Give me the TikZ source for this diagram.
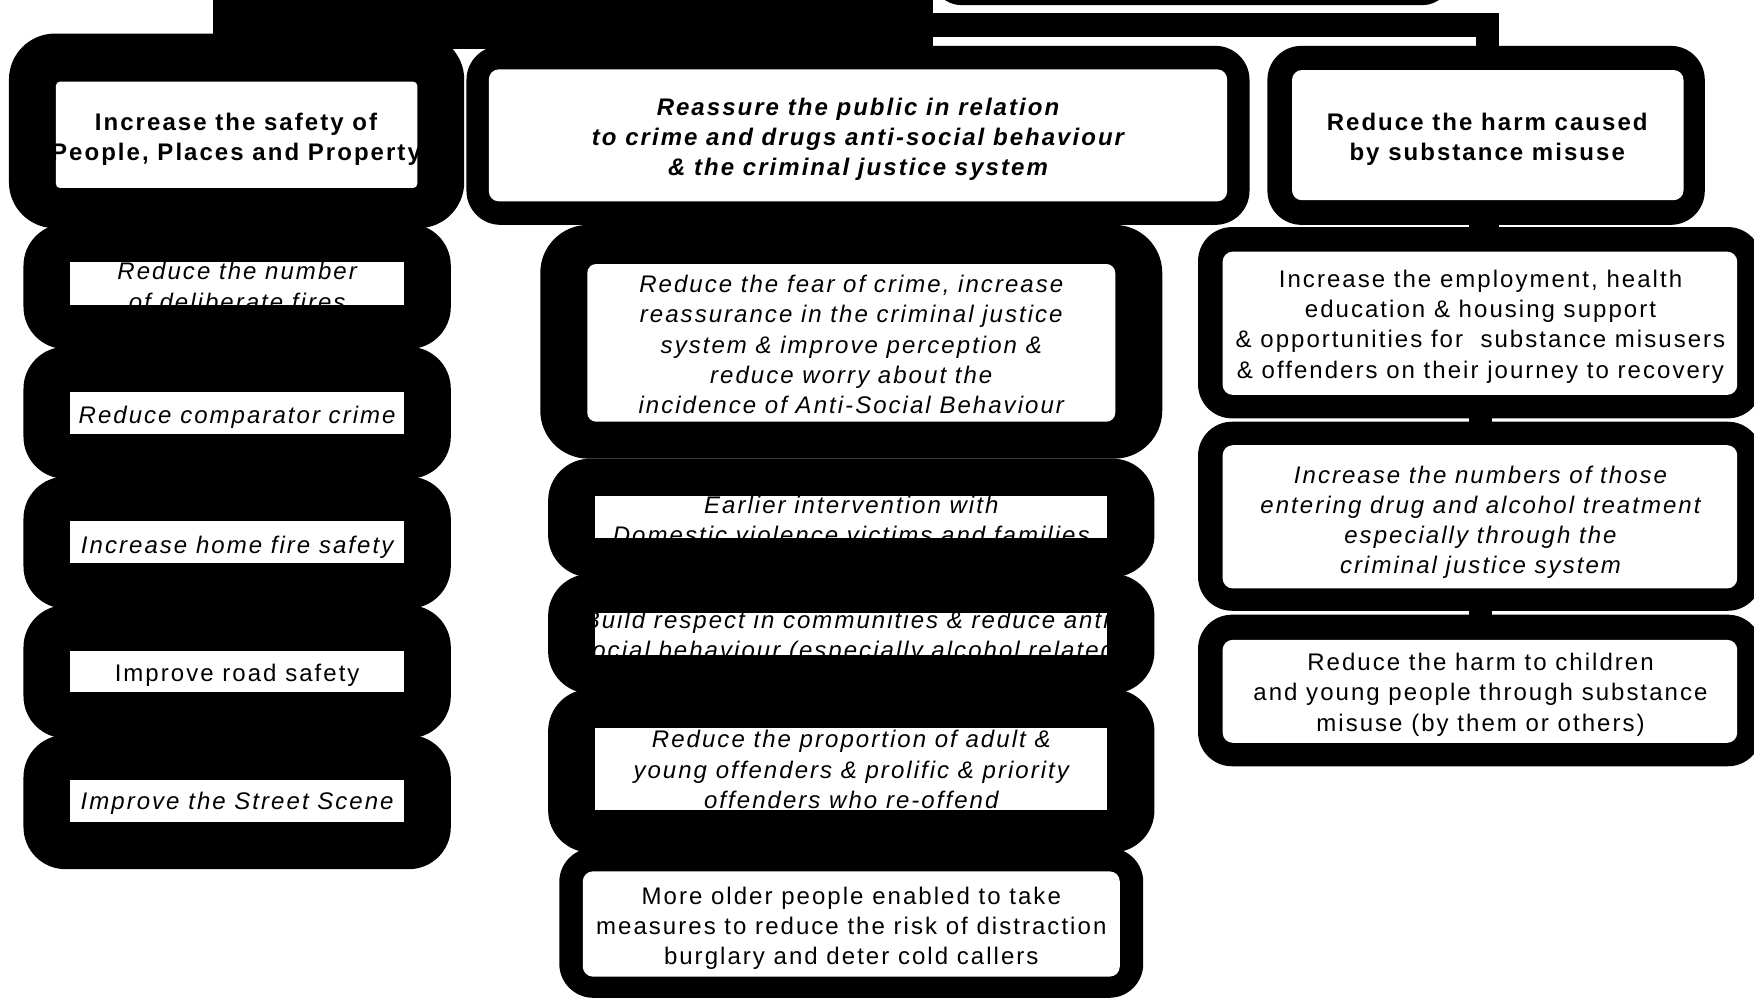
\documentclass[tikz,border=0pt]{standalone}
\usepackage{fontspec}
\setmainfont{Liberation Sans}[LetterSpace=8.5]
\usetikzlibrary{calc}
\pgfdeclarelayer{links}
\pgfsetlayers{links,main}

\begin{document}
\begin{tikzpicture}[x=0.5593pt, y=-0.5593pt,
  rim/.style={fill=black, rounded corners=21pt},
  slimrim/.style={fill=black, rounded corners=17pt},
  pane/.style={fill=white},
  roundpane/.style={fill=white, rounded corners=5pt},
  link/.style={draw=black, line width=11.7pt},
  goal/.style={inner sep=0pt, align=center, font=\fontsize{12pt}{15.1pt}\selectfont},
  slantgoal/.style={goal, font=\fontsize{12pt}{15.1pt}\selectfont\itshape},
  headgoal/.style={goal, font=\fontsize{12pt}{15.1pt}\selectfont\bfseries},
  slantheadgoal/.style={goal, font=\fontsize{12pt}{15.1pt}\selectfont\bfseries\itshape}]
  \useasboundingbox (0,0) rectangle (1568,895);
  \clip (0,0) rectangle (1568,895);

  % Title frame, cut off by the top edge
  \fill (190,0) rectangle (834,44);
  \fill[rounded corners=14pt] (834,-100) rectangle (1297,4.5);
  \coordinate (hub) at (834,22.4);

  % Rims, left column
  \fill[rim, rounded corners=23pt] (8,30) rectangle (415,204);
  \fill[rim] (21,200) rectangle (403,312);
  \fill[rim] (21,310) rectangle (403,428);
  \fill[rim] (21,426) rectangle (403,544);
  \fill[rim] (21,541) rectangle (403,660);
  \fill[rim] (21,657) rectangle (403,777);

  % Rims, middle column
  \fill[slimrim] (417,41) rectangle (1117,201);
  \fill[rim, rounded corners=24pt] (483,201) rectangle (1039,410);
  \fill[rim] (490,410) rectangle (1032,516);
  \fill[rim] (490,513) rectangle (1032,620);
  \fill[rim] (490,616) rectangle (1032,762);
  \fill[slimrim] (500,758) rectangle (1022,892);

  % Rims, right column
  \fill[slimrim] (1133,41) rectangle (1524,201);
  \fill[slimrim] (1071,203) rectangle (1575,374);
  \fill[slimrim] (1071,377) rectangle (1575,546);
  \fill[slimrim] (1071,549.5) rectangle (1575,685);

  % White panes
  \fill[pane, rounded corners=2pt] (50,73) rectangle (373,168);
  \fill[pane] (63,234) rectangle (361,273);
  \fill[pane] (63,350) rectangle (361,388);
  \fill[pane] (63,466) rectangle (361,503);
  \fill[pane] (63,582) rectangle (361,619);
  \fill[pane] (63,697) rectangle (361,735);
  \fill[roundpane] (437,62) rectangle (1097,180);
  \fill[roundpane, rounded corners=4.5pt] (525,236) rectangle (997,377);
  \fill[pane] (532,443.6) rectangle (990,481);
  \fill[pane] (532,548) rectangle (990,585.6);
  \fill[pane] (532,651) rectangle (990,724);
  \fill[roundpane] (521,779) rectangle (1001,873);
  \fill[roundpane] (1155,62.6) rectangle (1505,179);
  \fill[roundpane] (1093,225) rectangle (1553,353);
  \fill[roundpane] (1093,398) rectangle (1553,526);
  \fill[roundpane] (1093,572) rectangle (1553,664);

  % Left column: people, places and property
  \node[headgoal] (safety) at (211,124.5) {Increase the safety of\\People, Places and Property};
  \node[slantgoal] (fires) at (212,256) {Reduce the number\\of deliberate fires};
  \node[slantgoal] (comparator) at (212,373) {Reduce comparator crime};
  \node[slantgoal] (homefire) at (212,489) {Increase home fire safety};
  \node[goal] (road) at (212,604) {Improve road safety};
  \node[slantgoal] (street) at (212,718) {Improve the Street Scene};

  % Middle column: reassurance
  \node[slantheadgoal] (reassure) at (767,124.5) {Reassure the public in relation\\to crime and drugs anti-social behaviour\\\& the criminal justice system};
  \node[slantgoal] (fear) at (761,308) {Reduce the fear of crime, increase\\reassurance in the criminal justice\\system \& improve perception \&\\reduce worry about the\\incidence of Anti-Social Behaviour};
  \node[slantgoal] (domestic) at (761,464.5) {Earlier intervention with\\Domestic violence victims and families};
  \node[slantgoal] (respect) at (761,570) {Build respect in communities \& reduce anti-\\social behaviour (especially alcohol related)};
  \node[slantgoal] (reoffend) at (761,688) {Reduce the proportion of adult \&\\young offenders \& prolific \& priority\\offenders who re-offend};
  \node[goal] (older) at (761,830) {More older people enabled to take\\measures to reduce the risk of distraction\\burglary and deter cold callers};

  % Right column: substance misuse
  \node[headgoal] (harm) at (1329.5,124.5) {Reduce the harm caused\\by substance misuse};
  \node[goal] (recovery) at (1323.5,292) {Increase the employment, health\\education \& housing support\\\& opportunities for\ \ substance misusers\\\& offenders on their journey to recovery};
  \node[slantgoal] (treatment) at (1323.5,467) {Increase the numbers of those\\entering drug and alcohol treatment\\especially through the\\criminal justice system};
  \node[goal] (children) at (1323.5,621) {Reduce the harm to children\\and young people through substance\\misuse (by them or others)};

  % Links (under the rims)
  \begin{pgfonlayer}{links}
    \draw[link] (hub) -| (harm);
    \draw[link] (harm) -- (harm |- recovery);
    \draw[link] (recovery |- harm) -- (children);
  \end{pgfonlayer}
\end{tikzpicture}
\end{document}
